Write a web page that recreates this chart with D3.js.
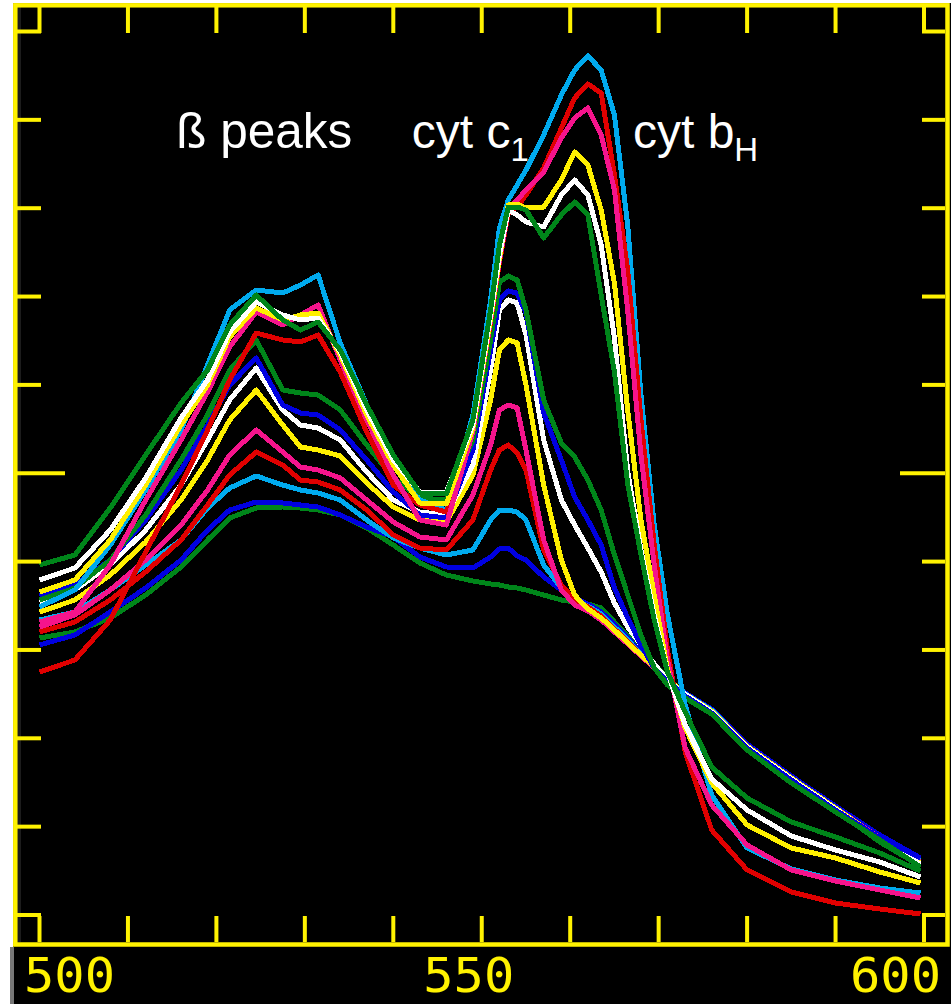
<!DOCTYPE html>
<html><head><meta charset="utf-8">
<script src="https://cdn.jsdelivr.net/npm/d3@7"></script>
<style>html,body{margin:0;padding:0;background:#fff;} svg{display:block}</style>
</head><body>
<svg id="chart" width="951" height="1004"></svg>
<script>
// Wavelength grid (nm)
const wavelengths = [500,504,508,512,516,519,521.5,524.5,527.5,529.5,531.5,534,537,540,543,546,549,551,552,553,554,555,557,559,560.5,562,563.5,565,566.5,568,569.5,571,573,576,580,585,590,595,599.6];

// Absorbance (arbitrary units, 0..88.35 full frame) — oxidised -> reduced
const green1 = [27.7,28.3,29.7,32.0,34.8,37.5,39.7,40.7,40.8,40.7,40.5,40.0,38.7,37.0,35.2,34.0,33.4,33.1,33.0,32.8,32.7,32.5,32.0,31.5,31.3,31.1,30.7,29.3,27.9,26.5,25.1,23.7,22.0,20.2,16.7,13.5,10.5,7.3,4.9];
const blue1  = [27.0,28.0,30.3,32.7,35.5,38.5,40.5,41.3,41.2,41.0,40.8,40.0,38.8,37.8,35.8,34.8,34.7,35.8,36.6,36.7,35.9,35.5,33.8,32.5,31.7,31.1,30.3,29.1,27.7,26.3,25.0,23.6,22.2,20.6,17.1,13.9,10.9,8.0,5.7];
const cyan1  = [29.5,30.3,32.5,35.0,37.5,40.7,42.7,43.9,43.0,42.5,42.2,41.5,39.5,37.7,36.7,36.0,36.5,39.5,40.5,40.5,40.3,39.5,35.0,32.7,31.5,30.9,30.1,28.8,27.5,26.1,24.9,23.6,22.1,20.5,16.9,13.7,10.7,7.7,5.4];
const red1   = [28.3,29.3,31.5,34.3,37.5,41.0,44.0,46.3,45.0,43.5,43.3,42.5,40.5,38.0,36.7,36.5,39.5,44.5,46.5,47.0,46.2,44.5,36.5,33.0,31.5,30.8,29.9,28.6,27.3,26.0,24.8,23.6,22.0,20.3,16.7,13.5,10.5,7.5,5.1];
const pink1  = [28.8,30.0,32.5,35.5,39.0,42.5,46.0,48.5,46.3,44.8,44.5,43.7,41.5,39.3,37.8,37.5,42.0,47.0,50.5,51.0,50.7,46.5,37.5,32.5,31.0,30.4,29.5,28.3,27.1,25.9,24.7,23.6,22.1,20.3,16.8,13.6,10.7,7.7,5.3];
const yellow1= [30.3,31.5,34.0,37.3,41.5,45.5,49.5,52.5,49.0,46.8,46.5,45.9,43.2,40.8,39.5,39.3,44.0,51.5,56.5,57.5,57.2,53.0,43.0,35.5,32.0,30.6,29.7,28.5,27.2,26.0,24.8,23.6,22.1,20.4,16.9,13.7,10.7,7.6,5.2];
const white1 = [31.3,32.5,35.0,38.5,43.0,47.5,51.5,54.7,50.5,49.0,48.7,47.5,44.3,41.5,40.3,40.0,45.0,54.5,60.5,61.5,61.2,58.0,47.5,41.5,39.0,36.7,34.3,31.2,28.8,27.0,25.1,23.5,22.1,20.3,16.8,13.6,10.6,7.5,5.1];
const blue2  = [31.9,33.0,35.5,39.5,44.5,49.0,53.0,55.7,51.0,50.2,50.0,48.5,45.5,42.3,40.0,39.7,46.5,56.5,61.5,62.4,62.2,60.2,50.2,45.5,41.8,39.5,37.0,32.7,29.7,27.0,24.7,23.4,21.9,20.2,16.7,13.5,10.5,7.7,5.7];
const green2 = [31.5,32.7,35.5,40.0,45.5,50.0,54.5,57.5,52.5,52.2,52.0,50.5,47.0,43.7,41.7,41.5,47.5,57.5,63.3,63.9,63.5,60.5,51.5,47.2,45.8,43.5,40.5,36.0,32.0,28.0,24.7,23.0,21.7,20.1,16.5,13.2,10.3,7.5,4.8];
const cyan2  = [30.8,32.5,37.0,42.5,48.5,55.0,60.5,62.5,62.2,63.0,64.0,57.2,51.0,45.5,41.5,40.5,50.0,61.5,68.7,71.5,73.0,74.5,78.0,82.0,84.5,85.9,84.5,80.0,69.0,52.0,39.0,30.0,21.0,12.0,6.7,4.6,3.5,2.7,2.2];
const red2   = [24.3,25.5,29.5,36.3,43.0,48.5,53.5,58.2,57.5,57.3,58.0,54.3,48.3,43.0,41.0,40.3,48.5,59.3,65.3,70.2,70.8,72.0,74.7,78.7,81.7,83.1,82.2,74.0,64.5,49.5,37.0,26.5,16.3,8.5,4.5,2.3,1.2,0.6,0.1];
const pink2  = [29.3,30.3,35.0,41.5,47.5,52.3,56.8,60.3,59.0,60.0,61.0,55.5,49.5,44.0,39.5,39.0,48.3,59.5,65.5,70.5,71.5,72.5,74.3,77.7,79.7,80.7,78.0,72.5,60.5,46.0,35.0,25.5,16.7,11.0,7.0,4.5,3.4,2.5,1.7];
const yellow2= [32.3,33.5,37.5,43.0,49.0,53.0,57.8,60.7,59.5,60.0,60.2,56.0,50.0,45.0,41.2,41.1,48.7,59.7,65.7,71.0,71.1,70.7,70.8,73.5,76.3,75.0,70.5,63.2,50.5,39.5,32.0,24.5,18.7,13.2,9.0,6.7,5.7,4.3,3.2];
const white2 = [33.5,34.7,38.5,43.7,49.7,53.5,58.3,61.3,60.0,59.5,59.7,56.3,50.5,45.5,42.3,42.3,49.0,60.0,66.0,70.5,70.0,69.3,68.8,72.0,73.5,72.0,67.0,57.7,44.4,36.5,30.0,24.3,19.0,13.6,10.5,7.9,6.5,5.3,3.8];
const green3 = [35.0,36.0,40.7,46.0,51.2,54.5,59.0,62.0,59.5,58.5,59.3,56.5,51.0,46.0,42.2,42.1,49.5,60.5,67.0,70.8,70.8,70.5,67.7,70.0,71.3,70.0,62.0,54.3,43.1,36.0,29.5,24.3,20.3,14.8,11.7,9.3,7.8,6.2,4.4];

const seriesNames  = ["green1","blue1","cyan1","red1","pink1","yellow1","white1","blue2","green2","cyan2","red2","pink2","yellow2","white2","green3"];
const seriesValues = [green1,blue1,cyan1,red1,pink1,yellow1,white1,blue2,green2,cyan2,red2,pink2,yellow2,white2,green3];
const seriesColors = ["#00851a","#0000e0","#00aaee","#e00000","#f5148c","#fff000","#ffffff","#0000e0","#00851a","#00aaee","#e00000","#f5148c","#fff000","#ffffff","#00851a"];

const xTicks = [500,510,520,530,540,550,560,570,580,590,600];
const xLabels = ["500","550","600"];
const xLabelValues = [500,550,600];
const yMax = 88.35;
const yTicks = d3.range(0, 11).map(i => i * yMax / 10);

const annotations = [
  {text:"ß peaks", sub:"", wl:515.45, size:49.5},
  {text:"cyt c", sub:"1", wl:542.1, size:48},
  {text:"cyt b", sub:"H", wl:567.1, size:48}
];

const W = 951, H = 1004;
const svg = d3.select("#chart");
const x = d3.scaleLinear().domain([500, 600]).range([39.5, 924]);
const y = d3.scaleLinear().domain([0, yMax]).range([915, 31.5]);
const yel = "#fff200";

// backgrounds
svg.append("rect").attr("x",0).attr("y",0).attr("width",W).attr("height",H).attr("fill","#fff");
svg.append("rect").attr("x",13).attr("y",3).attr("width",W-13).attr("height",H-3).attr("fill","#000");
svg.append("rect").attr("x",10).attr("y",947).attr("width",4).attr("height",57).attr("fill","#777");
svg.append("rect").attr("x",17).attr("y",7).attr("width",4).attr("height",935).attr("fill","#1c1c1c");

// spectra
const line = d3.line().x((d,i)=>x(wavelengths[i])).y(d=>y(d)).curve(d3.curveLinear);
svg.append("g").selectAll("path").data(seriesValues).join("path")
  .attr("d", d=>line(d))
  .attr("fill","none")
  .attr("stroke",(d,i)=>seriesColors[i])
  .attr("stroke-width",5)
  .attr("stroke-linejoin","round")
  .attr("shape-rendering","crispEdges");

// frame
const fr = svg.append("g").attr("stroke",yel).attr("fill","none").attr("stroke-width",4);
fr.append("rect").attr("x",15.3).attr("y",5.3).attr("width",947.5-15.3).attr("height",944.5-5.3).attr("stroke-width",4.5);
fr.selectAll("line.tt").data(xTicks).join("line").attr("class","tt")
  .attr("x1",d=>x(d)).attr("x2",d=>x(d)).attr("y1",7).attr("y2",33);
fr.selectAll("line.bt").data(xTicks).join("line").attr("class","bt")
  .attr("x1",d=>x(d)).attr("x2",d=>x(d)).attr("y1",916).attr("y2",942);
fr.selectAll("line.lt").data(yTicks).join("line").attr("class","lt")
  .attr("y1",d=>y(d)).attr("y2",d=>y(d)).attr("x1",17).attr("x2",(d,i)=> i===5 ? 65 : 41);
fr.selectAll("line.rt").data(yTicks).join("line").attr("class","rt")
  .attr("y1",d=>y(d)).attr("y2",d=>y(d)).attr("x1",945).attr("x2",(d,i)=> i===5 ? 900 : 922);

// x labels: tall narrow digits kept fully inside the page
const labelShift = [-15.5, -58.5, -74];
svg.append("g").selectAll("text").data(xLabels).join("text")
  .attr("x",(d,i)=> x(xLabelValues[i]) + labelShift[i])
  .attr("y",992)
  .attr("text-anchor","start")
  .attr("fill",yel)
  .attr("font-family","DejaVu Sans Mono")
  .attr("font-size",48)
  .attr("textLength",91)
  .attr("lengthAdjust","spacingAndGlyphs")
  .text(d=>d);

// annotations
const ann = svg.append("g").attr("fill","#fff").attr("font-family","Liberation Sans, Arial, sans-serif");
annotations.forEach(a=>{
  const t = ann.append("text").attr("x",x(a.wl)).attr("y",148).attr("font-size",a.size).text(a.text);
  if(a.sub){ t.append("tspan").attr("font-size",33).attr("dy",13).text(a.sub); }
});
</script>
</body></html>
